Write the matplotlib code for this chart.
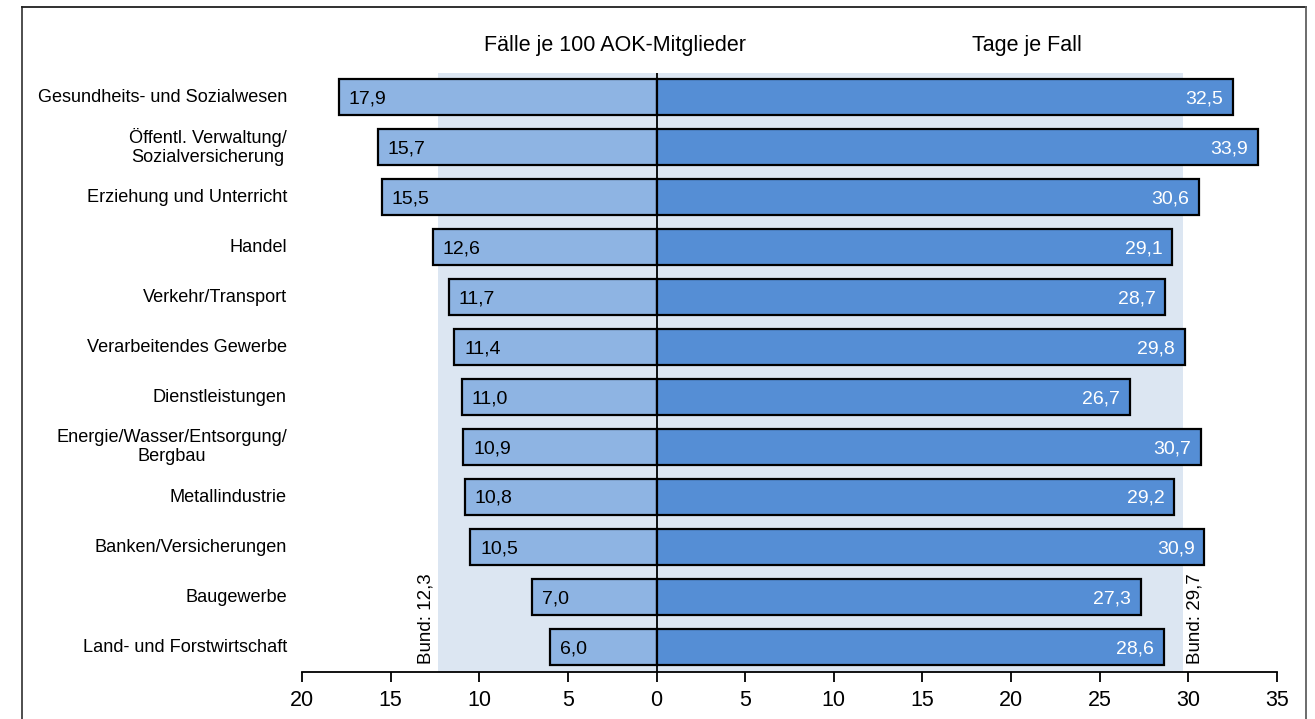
import matplotlib
matplotlib.use("Agg")
import matplotlib.pyplot as plt
from matplotlib.lines import Line2D

plt.rcParams['font.family'] = ['Liberation Sans', 'DejaVu Sans']

branchen = [
    "Gesundheits- und Sozialwesen",
    "Öffentl. Verwaltung/\nSozialversicherung",
    "Erziehung und Unterricht",
    "Handel",
    "Verkehr/Transport",
    "Verarbeitendes Gewerbe",
    "Dienstleistungen",
    "Energie/Wasser/Entsorgung/\nBergbau",
    "Metallindustrie",
    "Banken/Versicherungen",
    "Baugewerbe",
    "Land- und Forstwirtschaft",
]
faelle = [17.9, 15.7, 15.5, 12.6, 11.7, 11.4, 11.0, 10.9, 10.8, 10.5, 7.0, 6.0]
tage = [32.5, 33.9, 30.6, 29.1, 28.7, 29.8, 26.7, 30.7, 29.2, 30.9, 27.3, 28.6]
bund_faelle = 12.3
bund_tage = 29.7
xticks = [-20, -15, -10, -5, 0, 5, 10, 15, 20, 25, 30, 35]
xticklabels = ["20", "15", "10", "5", "0", "5", "10", "15", "20", "25", "30", "35"]

W, H = 1315, 719
fig = plt.figure(figsize=(W / 100, H / 100), dpi=100)
ax = fig.add_axes([302 / W, 47 / H, (1277 - 302) / W, (672 - 73) / H])

c_left = "#8EB4E3"
c_right = "#558ED5"
c_shade = "#DCE6F2"

ax.axvspan(-bund_faelle, bund_tage, color=c_shade, zorder=0, lw=0)

ypos = list(range(len(branchen)))
ax.barh(ypos, [-v for v in faelle], height=0.72, color=c_left,
        edgecolor="black", linewidth=1.6, zorder=2)
ax.barh(ypos, tage, height=0.72, color=c_right,
        edgecolor="black", linewidth=1.6, zorder=2)
ax.axvline(0, color="black", lw=1.3, zorder=3)

fs = 14
for y, v in zip(ypos, faelle):
    ax.text(-v + 0.55, y + 0.03, f"{v:.1f}".replace(".", ","), ha="left",
            va="center", fontsize=fs, color="black", zorder=4)
for y, v in zip(ypos, tage):
    ax.text(v - 0.55, y + 0.03, f"{v:.1f}".replace(".", ","), ha="right",
            va="center", fontsize=fs, color="white", zorder=4)

for y, lab in zip(ypos, branchen):
    ax.text(-20.85, y, lab, ha="right", va="center", fontsize=13.1,
            multialignment="center", color="black")

ax.text(-bund_faelle - 0.25, 11.35, "Bund: " + f"{bund_faelle:.1f}".replace(".", ","),
        rotation=90, ha="right", va="bottom", fontsize=13.5, zorder=4)
ax.text(bund_tage + 0.2, 11.35, "Bund: " + f"{bund_tage:.1f}".replace(".", ","),
        rotation=90, ha="left", va="bottom", fontsize=13.5, zorder=4)

ax.set_xlim(-20, 35)
ax.set_ylim(11.5, -0.48)
ax.set_xticks(xticks)
ax.set_xticklabels(xticklabels, fontsize=15.5)
ax.set_yticks([])
for s in ("top", "left", "right"):
    ax.spines[s].set_visible(False)
ax.spines["bottom"].set_linewidth(1.3)
ax.tick_params(axis="x", direction="out", length=7, width=1.3, pad=6)

fig.text(615 / W, 1 - 45 / H, "Fälle je 100 AOK-Mitglieder", ha="center",
         va="center", fontsize=15.5)
fig.text(1027 / W, 1 - 45 / H, "Tage je Fall", ha="center", va="center",
         fontsize=15.5)

# surrounding frame
fx0, fx1, fy1 = 22 / W, 1306 / W, 1 - 7 / H
for xs, ys, col in (([fx0, fx0], [0, fy1], "#404040"),
                    ([fx0, fx1], [fy1, fy1], "#202020"),
                    ([fx1, fx1], [0, fy1], "#606060")):
    fig.add_artist(Line2D(xs, ys, transform=fig.transFigure, color=col, lw=1.3))

fig.savefig("out.png", dpi=100)
